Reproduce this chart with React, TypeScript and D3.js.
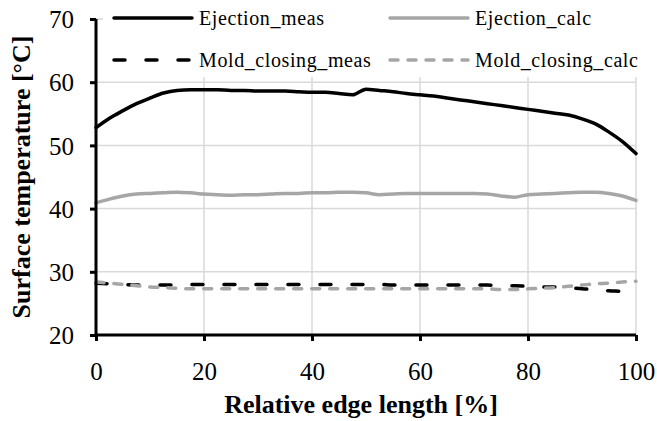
import { useEffect, useRef } from "react";
import * as d3 from "d3";

// relative edge length [%]
const positions = [
  0, 2.5, 5, 7.5, 10, 12.5, 15, 17.5, 20, 22.5, 25, 27.5, 30, 32.5, 35, 37.5, 40,
  42.5, 45, 47.5, 50, 52.5, 55, 57.5, 60, 62.5, 65, 67.5, 70, 72.5, 75, 77.5, 80,
  82.5, 85, 87.5, 90, 92.5, 95, 97.5, 100,
];

const ejectionMeas = [
  52.8, 54.3, 55.5, 56.6, 57.5, 58.3, 58.7, 58.8, 58.8, 58.8, 58.7, 58.7, 58.6,
  58.6, 58.6, 58.5, 58.4, 58.4, 58.2, 58.0, 58.9, 58.7, 58.5, 58.2, 58.0, 57.8,
  57.5, 57.2, 56.9, 56.6, 56.3, 56.0, 55.7, 55.4, 55.1, 54.8, 54.2, 53.4, 52.1,
  50.6, 48.7,
];

const ejectionCalc = [
  40.9, 41.5, 42.0, 42.3, 42.4, 42.5, 42.6, 42.5, 42.3, 42.2, 42.1, 42.2, 42.2,
  42.3, 42.4, 42.4, 42.5, 42.5, 42.6, 42.6, 42.5, 42.2, 42.3, 42.4, 42.4, 42.4,
  42.4, 42.4, 42.4, 42.3, 42.0, 41.8, 42.2, 42.3, 42.4, 42.5, 42.6, 42.6, 42.4,
  42.0, 41.3,
];

const moldClosingMeas = [
  28.2, 28.1, 28.0, 27.9, 27.9, 27.9, 27.9, 28.0, 28.0, 28.0, 28.0, 28.0, 28.0,
  28.0, 28.0, 28.0, 28.0, 28.0, 28.0, 28.0, 28.0, 28.0, 27.9, 27.9, 27.9, 27.9,
  27.9, 27.9, 27.9, 27.9, 27.8, 27.8, 27.7, 27.6, 27.6, 27.5, 27.3, 27.2, 27.0,
  26.9, 26.6,
];

const moldClosingCalc = [
  28.4, 28.2, 28.0, 27.8, 27.6, 27.5, 27.4, 27.3, 27.3, 27.3, 27.3, 27.3, 27.3,
  27.3, 27.3, 27.3, 27.3, 27.3, 27.3, 27.3, 27.3, 27.3, 27.3, 27.3, 27.3, 27.3,
  27.3, 27.3, 27.3, 27.3, 27.2, 27.2, 27.3, 27.4, 27.5, 27.7, 27.9, 28.1, 28.2,
  28.4, 28.5,
];

const xTicks = [0, 20, 40, 60, 80, 100];
const yTicks = [20, 30, 40, 50, 60, 70];

const series = [
  { name: "Ejection_meas", values: ejectionMeas, color: "#000000", dash: null },
  { name: "Ejection_calc", values: ejectionCalc, color: "#a6a6a6", dash: null },
  { name: "Mold_closing_meas", values: moldClosingMeas, color: "#000000", dash: "11,21" },
  { name: "Mold_closing_calc", values: moldClosingCalc, color: "#a6a6a6", dash: "8,10" },
];

const width = 657;
const height = 421;
const font = "'Liberation Serif', 'Times New Roman', serif";

export default function App() {
  const svgRef = useRef(null);

  useEffect(() => {
    const svg = d3.select(svgRef.current);
    svg.selectAll("*").remove();

    const x = d3.scaleLinear().domain([0, 100]).range([96, 636]);
    const y = d3.scaleLinear().domain([20, 70]).range([335, 19]);

    // gridlines
    svg
      .append("g")
      .selectAll("line.h")
      .data(yTicks.slice(1))
      .enter()
      .append("line")
      .attr("x1", x(0))
      .attr("x2", x(100))
      .attr("y1", (d) => y(d))
      .attr("y2", (d) => y(d))
      .attr("stroke", "#d9d9d9")
      .attr("stroke-width", 1.5);

    svg
      .append("g")
      .selectAll("line.v")
      .data(xTicks.slice(1))
      .enter()
      .append("line")
      .attr("x1", (d) => x(d))
      .attr("x2", (d) => x(d))
      .attr("y1", y(70))
      .attr("y2", y(20))
      .attr("stroke", "#d9d9d9")
      .attr("stroke-width", 1.5);

    // data lines
    const line = d3
      .line()
      .x((d) => x(d[0]))
      .y((d) => y(d[1]))
      .curve(d3.curveMonotoneX);

    series.forEach((s) => {
      svg
        .append("path")
        .datum(positions.map((p, i) => [p, s.values[i]]))
        .attr("d", line)
        .attr("fill", "none")
        .attr("stroke", s.color)
        .attr("stroke-width", 3.5)
        .attr("stroke-linecap", "round")
        .attr("stroke-linejoin", "round")
        .attr("stroke-dasharray", s.dash);
    });

    // legend sits on a white box over the top of the plot
    svg
      .append("rect")
      .attr("x", 103)
      .attr("y", 0)
      .attr("width", width - 103)
      .attr("height", 77)
      .attr("fill", "white");

    const legendPos = [
      [114, 18],
      [390, 18],
      [114, 60],
      [390, 60],
    ];
    series.forEach((s, i) => {
      const [lx, ly] = legendPos[i];
      svg
        .append("line")
        .attr("x1", lx)
        .attr("x2", lx + 78)
        .attr("y1", ly)
        .attr("y2", ly)
        .attr("stroke", s.color)
        .attr("stroke-width", 3.5)
        .attr("stroke-linecap", "round")
        .attr("stroke-dasharray", s.dash);
      svg
        .append("text")
        .attr("x", lx + 85)
        .attr("y", ly + 7)
        .attr("font-family", font)
        .attr("font-size", 20)
        .attr("letter-spacing", 0.6)
        .text(s.name);
    });

    // axes
    const yAxis = svg.append("g").attr("transform", `translate(${x(0)},0)`);
    yAxis
      .call(d3.axisLeft(y).tickValues(yTicks).tickSize(6).tickFormat(d3.format("d")))
      .call((g) => g.select(".domain").attr("stroke-width", 3).attr("d", `M0,${y(70)}V${y(20)}`));
    yAxis.selectAll(".tick line").attr("stroke-width", 3);
    yAxis
      .selectAll(".tick text")
      .attr("x", -22)
      .attr("dy", "0.35em")
      .attr("font-family", font)
      .attr("font-size", 25)
      .attr("fill", "#000");

    const xAxis = svg.append("g").attr("transform", `translate(0,${y(20)})`);
    xAxis
      .call(d3.axisBottom(x).tickValues(xTicks).tickSize(6).tickFormat(d3.format("d")))
      .call((g) => g.select(".domain").attr("stroke-width", 3).attr("d", `M${x(0)},0H${x(100)}`));
    xAxis.selectAll(".tick line").attr("stroke-width", 3);
    xAxis
      .selectAll(".tick text")
      .attr("y", 45)
      .attr("dy", 0)
      .attr("font-family", font)
      .attr("font-size", 25)
      .attr("fill", "#000");

    // titles
    svg
      .append("text")
      .attr("x", 361)
      .attr("y", 413)
      .attr("text-anchor", "middle")
      .attr("font-family", font)
      .attr("font-weight", "bold")
      .attr("font-size", 26)
      .text("Relative edge length [%]");

    svg
      .append("text")
      .attr("transform", `translate(30,177) rotate(-90)`)
      .attr("text-anchor", "middle")
      .attr("font-family", font)
      .attr("font-weight", "bold")
      .attr("font-size", 26)
      .text("Surface temperature [°C]");
  }, []);

  return (
    <svg
      ref={svgRef}
      width={width}
      height={height}
      style={{ position: "absolute", left: 0, top: 0, background: "white" }}
    ></svg>
  );
}
